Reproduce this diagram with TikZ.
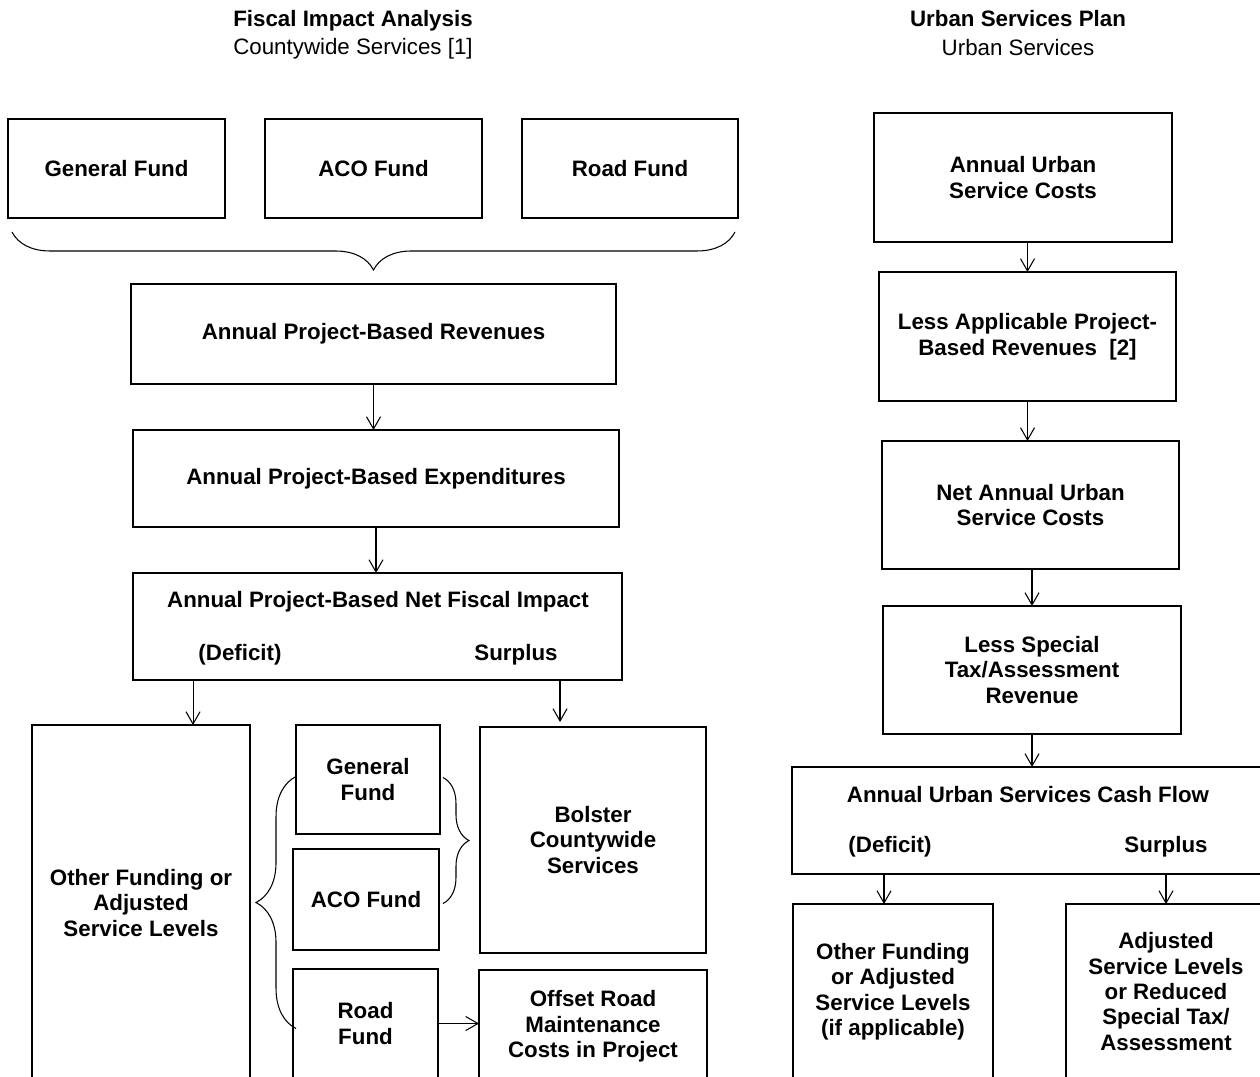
\documentclass[tikz,border=0pt]{standalone}
\usepackage{fontspec}
\setmainfont{Liberation Sans}
\usepackage{tikz}
\usetikzlibrary{arrows.meta, positioning, calc, decorations.pathreplacing}
\tikzstyle{box} = [rectangle, draw=black, line width=0.85pt, inner sep=0pt, outer sep=0pt, align=center, text centered, font=\bfseries\fontsize{12.7}{14.5}\selectfont]
\tikzstyle{lbl} = [inner sep=0pt, font=\bfseries\fontsize{12.7}{14.5}\selectfont]
\tikzstyle{arrow} = [line width=0.6pt, ->, >={Straight Barb[length=7pt,width=8pt]}]
\tikzstyle{curly} = [line width=0.6pt, decorate]

\begin{document}
\begin{tikzpicture}[x=0.02cm, y=-0.02cm]
		\useasboundingbox (0,0) rectangle (1260,1076);
		\clip (0,0) rectangle (1260,1076);
		% titles
		\node (ttlfia) [align=center, font=\fontsize{12.7}{16}\selectfont] at (353,35) {\textbf{Fiscal Impact Analysis}\\Countywide Services [1]};
		\node (ttlusp) [align=center, font=\fontsize{12.7}{16}\selectfont] at (1018,33) {\textbf{Urban Services Plan}\\Urban Services};
		
		% fiscal impact analysis
		\node (genfund) [box, minimum width=4.34cm, minimum height=1.98cm] at (116.5,168.5) {General Fund};
		\node (acofund) [box, minimum width=4.34cm, minimum height=1.98cm] at (373.5,168.5) {ACO Fund};
		\node (roadfund) [box, minimum width=4.32cm, minimum height=1.98cm] at (630,168.5) {Road Fund};
		\node (revenues) [box, minimum width=9.7cm, minimum height=2cm] at (373.5,334) {Annual Project-Based Revenues};
		\node (expend) [box, minimum width=9.72cm, minimum height=1.94cm] at (376,478.5) {Annual Project-Based Expenditures};
		\node (netfiscal) [box, minimum width=9.78cm, minimum height=2.14cm] at (377.5,626.5) {};
		\node (nftitle) [lbl] at (378,602) {Annual Project-Based Net Fiscal Impact};
		\node (nfdeficit) [lbl] at (240,655) {(Deficit)};
		\node (nfsurplus) [lbl] at (516,655) {Surplus};
		\node (otherfund) [box, minimum width=4.36cm, minimum height=7.12cm] at (141,903) {Other Funding or\\Adjusted\\Service Levels};
		\node (gf2) [box, minimum width=2.88cm, minimum height=2.18cm] at (368,779.5) {General\\Fund};
		\node (aco2) [box, minimum width=2.92cm, minimum height=2.02cm] at (366,899.5) {ACO Fund};
		\node (road2) [box, minimum width=2.9cm, minimum height=2.18cm] at (365.5,1023.5) {Road\\Fund};
		\node (bolster) [box, minimum width=4.52cm, minimum height=4.52cm] at (593,840) {Bolster\\Countywide\\Services};
		\node (offset) [box, minimum width=4.56cm, minimum height=2.26cm] at (593,1026.5) {Offset Road\\Maintenance\\Costs in Project};
		
		\draw[curly, decoration={brace, amplitude=0.76cm}] ($(roadfund.south east)+(-3,14)$) -- ($(genfund.south west)+(4,14)$);
		\draw[curly, decoration={brace, amplitude=0.8cm}] ($(road2.west)+(3,5)$) -- ($(gf2.west)+(0,-3)$);
		\draw[curly, decoration={brace, amplitude=0.52cm}] ($(gf2.east)+(3,-2)$) -- ($(aco2.east)+(4,4)$);
		
		\draw[arrow] (revenues.south) -- (revenues.south |- expend.north);
		\draw[arrow] (expend.south) -- (expend.south |- netfiscal.north);
		\draw[arrow] ([xshift=1.2cm]netfiscal.south west) -- ([xshift=1.2cm]netfiscal.south west |- otherfund.north);
		\draw[arrow] ([xshift=1.6cm]bolster.north west |- netfiscal.south) -- ([xshift=1.6cm,yshift=0.1cm]bolster.north west);
		\draw[arrow] (road2.east) -- (road2.east -| offset.west);
		
		% urban services plan
		\node (urbcost) [box, minimum width=5.96cm, minimum height=2.58cm] at (1023,177.5) {Annual Urban\\Service Costs};
		\node (lessapp) [box, minimum width=5.94cm, minimum height=2.58cm] at (1027.5,336.5) {Less Applicable Project-\\Based Revenues\ \ [2]};
		\node (netannual) [box, minimum width=5.94cm, minimum height=2.56cm] at (1030.5,505) {Net Annual Urban\\Service Costs};
		\node (lessspec) [box, minimum width=5.96cm, minimum height=2.56cm] at (1032,670) {Less Special\\Tax/Assessment\\Revenue};
		\node (cashflow) [box, minimum width=9.44cm, minimum height=2.14cm] at (1028,820.5) {};
		\node (cftitle) [lbl] at (1028,795) {Annual Urban Services Cash Flow};
		\node (cfdeficit) [lbl] at (890,847) {(Deficit)};
		\node (cfsurplus) [lbl] at (1166,847) {Surplus};
		\node (othfund2) [box, minimum width=4cm, minimum height=3.5cm] at (893,991.5) {Other Funding\\or Adjusted\\Service Levels\\(if applicable)};
		\node (adjusted) [box, minimum width=4cm, minimum height=3.5cm] at (1166,991.5) {Adjusted\\Service Levels\\or Reduced\\Special Tax/\\Assessment};
		
		\draw[arrow] (lessapp.north |- urbcost.south) -- (lessapp.north);
		\draw[arrow] (lessapp.south) -- (lessapp.south |- netannual.north);
		\draw[arrow] (lessspec.north |- netannual.south) -- (lessspec.north);
		\draw[arrow] (lessspec.south) -- (lessspec.south |- cashflow.north);
		\draw[arrow] ([xshift=-0.18cm]othfund2.north |- cashflow.south) -- ([xshift=-0.18cm]othfund2.north);
		\draw[arrow] (adjusted.north |- cashflow.south) -- (adjusted.north);
	\end{tikzpicture}
\end{document}
